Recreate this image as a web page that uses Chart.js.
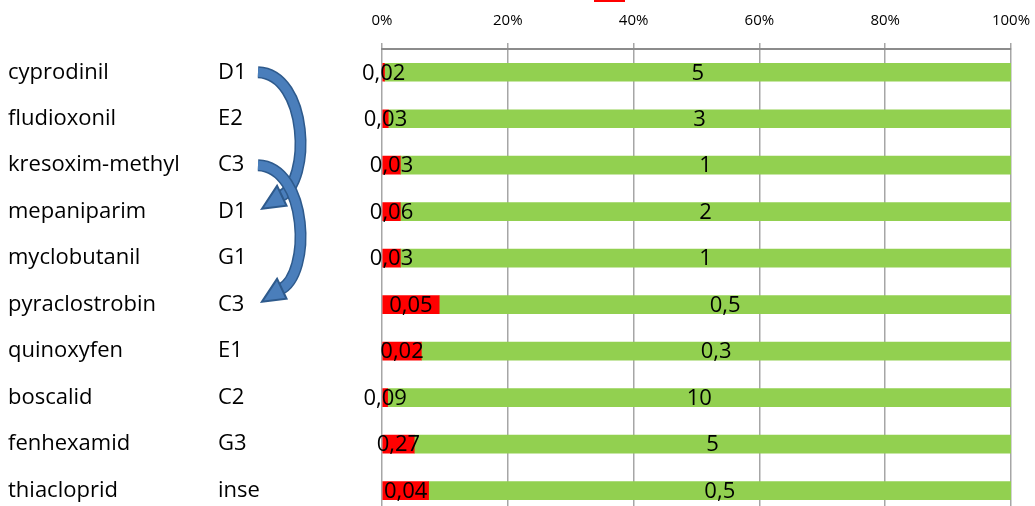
<!DOCTYPE html>
<html>
<head>
<meta charset="utf-8">
<script src="https://cdn.jsdelivr.net/npm/chart.js@4.4.1/dist/chart.umd.min.js"></script>
<style>
  html, body { margin: 0; padding: 0; overflow: hidden; background: #fff; }
  #wrap { width: 1035px; height: 527px; position: relative; }
</style>
</head>
<body>
<div id="wrap"><canvas id="chart"></canvas></div>
<script>
const categories = ['cyprodinil', 'fludioxonil', 'kresoxim-methyl', 'mepaniparim', 'myclobutanil',
    'pyraclostrobin', 'quinoxyfen', 'boscalid', 'fenhexamid', 'thiacloprid'];
const codes = ['D1', 'E2', 'C3', 'D1', 'G1', 'C3', 'E1', 'C2', 'G3', 'inse'];
const redValues = [0.02, 0.03, 0.03, 0.06, 0.03, 0.05, 0.02, 0.09, 0.27, 0.04];
const greenValues = [5, 3, 1, 2, 1, 0.5, 0.3, 10, 5, 0.5];
const xTicks = [0, 20, 40, 60, 80, 100];

// 100% stacked: share of each row
const redPct = redValues.map((v, i) => v / (v + greenValues[i]) * 100);
const greenPct = greenValues.map((v, i) => v / (redValues[i] + v) * 100);

const FONT = '"Open Sans", Lato, sans-serif';

const valueLabels = {
    id: 'valueLabels',
    afterDatasetsDraw(chart) {
        const c = chart.ctx;
        c.save();
        c.font = '22px ' + FONT;
        c.fillStyle = '#000';
        c.textAlign = 'center';
        c.textBaseline = 'middle';
        chart.data.datasets.forEach((ds, di) => {
            chart.getDatasetMeta(di).data.forEach((el, i) => {
                const raw = ds.raw[i];
                c.fillText(String(raw).replace('.', ','), (el.x + el.base) / 2, el.y + 1);
            });
        });
        c.restore();
    }
};

function curvedArrow(c, x0, y0, x1, y1) {
    const dy = y1 - y0;
    const cp1 = [x0 + 50, y0 + 2];
    const cp2 = [x0 + 54, y0 + dy * 0.8];
    const end = [x1 + 18, y1 - 12];
    c.lineCap = 'butt';
    const path = () => {
        c.beginPath();
        c.moveTo(x0, y0);
        c.bezierCurveTo(cp1[0], cp1[1], cp2[0], cp2[1], end[0], end[1]);
    };
    path(); c.strokeStyle = '#2E5A8C'; c.lineWidth = 12; c.stroke();
    path(); c.strokeStyle = '#4A7EBB'; c.lineWidth = 9; c.stroke();
    // head
    const ang = Math.atan2(end[1] - cp2[1], end[0] - cp2[0]);
    const bx = end[0] - Math.cos(ang) * 2, by = end[1] - Math.sin(ang) * 2;
    const px = -Math.sin(ang) * 11, py = Math.cos(ang) * 11;
    c.beginPath();
    c.moveTo(x1, y1);
    c.lineTo(bx + px, by + py);
    c.lineTo(bx - px, by - py);
    c.closePath();
    c.fillStyle = '#4A7EBB';
    c.strokeStyle = '#2E5A8C';
    c.lineWidth = 2;
    c.fill();
    c.stroke();
}

const sideDecor = {
    id: 'sideDecor',
    afterDraw(chart) {
        const c = chart.ctx;
        const y = chart.scales.y;
        c.save();
        c.font = '22px ' + FONT;
        c.fillStyle = '#000';
        c.textAlign = 'left';
        c.textBaseline = 'middle';
        codes.forEach((t, i) => c.fillText(t, 218, y.getPixelForValue(i)));
        // legend swatch clipped at top edge
        c.fillStyle = '#FF0000';
        c.fillRect(594, 0, 31, 2);
        curvedArrow(c, 258, y.getPixelForValue(0), 262, y.getPixelForValue(3) - 3);
        curvedArrow(c, 258, y.getPixelForValue(2), 262, y.getPixelForValue(5) - 3);
        c.restore();
    }
};

new Chart(document.getElementById('chart'), {
    type: 'bar',
    data: {
        labels: categories,
        datasets: [
            { label: 'red', data: redPct, raw: redValues, backgroundColor: '#FF0000', barThickness: 18 },
            { label: 'green', data: greenPct, raw: greenValues, backgroundColor: '#92D050', barThickness: 18 }
        ]
    },
    options: {
        indexAxis: 'y',
        responsive: true,
        maintainAspectRatio: false,
        animation: false,
        layout: { padding: { left: 8, right: 24, top: 8, bottom: 0 } },
        plugins: { legend: { display: false }, tooltip: { enabled: false } },
        scales: {
            x: {
                position: 'top',
                stacked: true,
                min: 0,
                max: 100,
                afterBuildTicks: s => { s.ticks = xTicks.map(v => ({ value: v })); },
                afterFit: s => { s.height = 41; s.paddingLeft = 0; s.paddingRight = 0; },
                ticks: {
                    color: '#000',
                    font: { family: FONT, size: 15 },
                    padding: 13,
                    maxRotation: 0,
                    callback: v => v + '%'
                },
                grid: { color: '#A6A6A6', lineWidth: 1.5, tickLength: 6 },
                border: { color: '#8C8C8C', width: 2 }
            },
            y: {
                stacked: true,
                afterFit: s => { s.width = 374; },
                ticks: {
                    color: '#000',
                    crossAlign: 'far',
                    font: { family: FONT, size: 22 },
                    padding: 0
                },
                grid: { display: false },
                border: { display: false }
            }
        }
    },
    plugins: [valueLabels, sideDecor]
});
</script>
</body>
</html>
